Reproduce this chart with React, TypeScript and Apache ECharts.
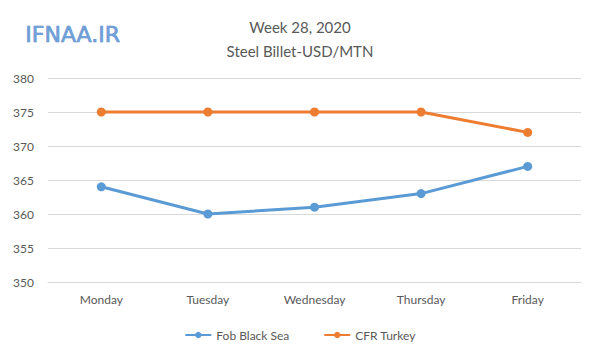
import React, { useEffect, useRef } from "react";
import * as echarts from "echarts";

const days = ["Monday", "Tuesday", "Wednesday", "Thursday", "Friday"];
const fobBlackSea = [364, 360, 361, 363, 367];
const cfrTurkey = [375, 375, 375, 375, 372];
const titleLines = ["Week 28, 2020", "Steel Billet-USD/MTN"];
const watermark = "IFNAA.IR";

export default function App() {
  const ref = useRef<HTMLDivElement>(null);
  useEffect(() => {
    const chart = echarts.init(ref.current!, null, { renderer: "svg" });
    const font = "Lato, 'Open Sans', sans-serif";
    chart.setOption({
      animation: false,
      backgroundColor: "#ffffff",
      textStyle: { fontFamily: font },
      title: {
        text: titleLines.join("\n"),
        left: "center",
        top: 10,
        textStyle: { fontSize: 15, fontWeight: "normal", color: "#595959", lineHeight: 24, fontFamily: font },
      },
      graphic: [
        {
          type: "rect",
          shape: { x: 3.5, y: 2.5, width: 592, height: 353 },
          style: { fill: "none", stroke: "#c8c8c8", lineWidth: 1 },
          silent: true,
        },
        {
          type: "text",
          left: 25,
          top: 23,
          style: {
            text: watermark,
            fill: "#6f9fd8",
            font: "22px 'DejaVu Sans', sans-serif",
            stroke: "#4a7cc0",
            lineWidth: 0.6,
          },
        },
      ],
      legend: {
        bottom: 14,
        left: "center",
        itemWidth: 26,
        itemHeight: 8,
        itemGap: 34,
        textStyle: { color: "#595959", fontSize: 12, fontFamily: font },
        data: ["Fob Black Sea", "CFR Turkey"],
      },
      grid: { left: 48, right: 19, top: 78, bottom: 78 },
      xAxis: {
        type: "category",
        data: days,
        boundaryGap: true,
        axisLine: { show: true, lineStyle: { color: "#d9d9d9" } },
        axisTick: { show: false },
        axisLabel: { color: "#595959", fontSize: 12, margin: 11 },
      },
      yAxis: {
        type: "value",
        min: 350,
        max: 380,
        interval: 5,
        axisLine: { show: false },
        axisTick: { show: false },
        axisLabel: { color: "#595959", fontSize: 12, margin: 14 },
        splitLine: { lineStyle: { color: "#d9d9d9" } },
      },
      series: [
        {
          name: "Fob Black Sea",
          type: "line",
          data: fobBlackSea,
          color: "#5b9bd5",
          symbol: "circle",
          symbolSize: 9,
          lineStyle: { width: 3 },
        },
        {
          name: "CFR Turkey",
          type: "line",
          data: cfrTurkey,
          color: "#ed7d31",
          symbol: "circle",
          symbolSize: 9,
          lineStyle: { width: 3 },
        },
      ],
    });
    return () => chart.dispose();
  }, []);
  return <div ref={ref} style={{ width: 600, height: 360, margin: -8 }} />;
}
